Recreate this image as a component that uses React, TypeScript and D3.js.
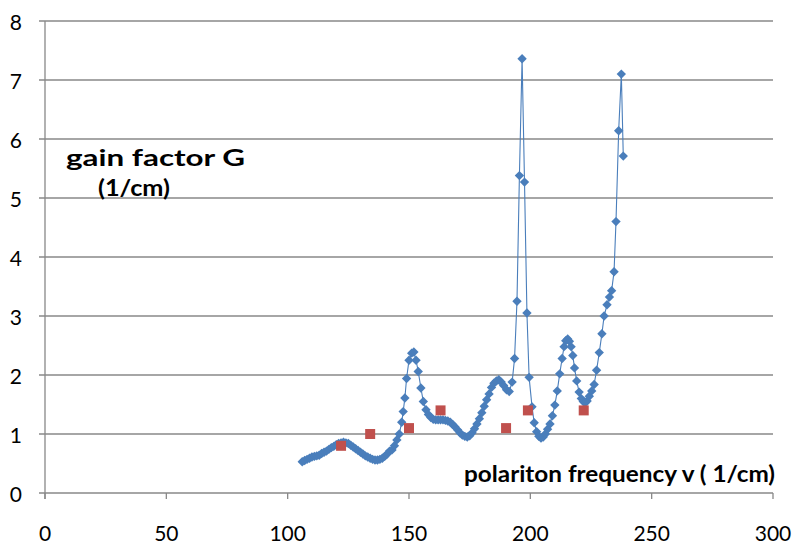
import React from "react";
import * as d3 from "d3";

const xTicks = [0, 50, 100, 150, 200, 250, 300];
const yTicks = [0, 1, 2, 3, 4, 5, 6, 7, 8];

const gainX = [
  106, 107, 108, 109, 110, 111, 112, 113, 114, 115, 116, 117, 118, 119, 120,
  121, 122, 123, 124, 125, 126, 127, 128, 129, 130, 131, 132, 133, 134, 135,
  136, 137, 138, 139, 140, 141, 142, 143, 144, 145, 146, 147, 147.6, 148.3,
  149, 150, 151.1, 152, 152.9, 153.8, 154.9, 155.9, 157, 158, 159, 160, 161,
  162, 163, 164, 165, 166, 167, 168, 169, 170, 171, 172, 173, 174, 175, 176,
  177, 178, 179, 180, 181, 182, 183, 184, 185, 186, 187, 188, 189, 190.2,
  191.3, 192.5, 193.5, 194.5, 195.5, 196.6, 197.6, 198.6, 199.5, 200.7, 201.6,
  202.6, 203.5, 204.4, 205.3, 206.2, 207.1, 208.1, 209.1, 210.1, 211.1, 212.1,
  213.1, 213.9, 214.6, 215.4, 216.1, 216.8, 217.5, 218.2, 219.1, 220.1, 221,
  221.8, 222.6, 223.4, 224.3, 225.3, 226.3, 227.3, 228.4, 229.5, 230.4, 231.6,
  232.6, 233.5, 234.5, 235.3, 236.4, 237.5, 238.3,
];
const gainY = [
  0.53, 0.55, 0.57, 0.59, 0.61, 0.62, 0.63, 0.64, 0.67, 0.69, 0.71, 0.74, 0.77,
  0.79, 0.82, 0.84, 0.85, 0.86, 0.85, 0.84, 0.81, 0.78, 0.75, 0.72, 0.69, 0.66,
  0.63, 0.61, 0.59, 0.57, 0.56, 0.56, 0.57, 0.59, 0.62, 0.66, 0.71, 0.73, 0.8,
  0.9, 1.0, 1.2, 1.38, 1.61, 1.94, 2.25, 2.37, 2.39, 2.25, 2.06, 1.78, 1.55,
  1.41, 1.33, 1.28, 1.25, 1.24, 1.24, 1.24, 1.24, 1.23, 1.22, 1.2, 1.16, 1.12,
  1.07, 1.02, 0.98, 0.96, 0.95, 0.97, 1.02, 1.09, 1.17, 1.26, 1.36, 1.47, 1.58,
  1.68, 1.79, 1.86, 1.9, 1.92, 1.88, 1.82, 1.75, 1.72, 1.88, 2.28, 3.25, 5.38,
  7.36, 5.27, 3.05, 1.96, 1.46, 1.19, 1.04, 0.96, 0.93, 0.95, 1.0, 1.08, 1.17,
  1.31, 1.49, 1.73, 2.02, 2.28, 2.48, 2.58, 2.61, 2.57, 2.48, 2.33, 2.12, 1.9,
  1.71, 1.6, 1.55, 1.53, 1.56, 1.64, 1.73, 1.84, 2.08, 2.38, 2.7, 3.0, 3.19,
  3.32, 3.43, 3.75, 4.6, 6.14, 7.1, 5.71,
];

const measX = [122, 134, 150, 163, 190, 199, 222];
const measY = [0.8, 1.0, 1.1, 1.4, 1.1, 1.4, 1.4];

const W = 800;
const H = 549;
const FONT = "Lato, 'Open Sans', sans-serif";
const GRID = "#888888";
const BLUE = "#4A7EBB";
const RED = "#C0504D";

export default function App() {
  const x = d3.scaleLinear().domain([0, 300]).range([45, 773]);
  const y = d3.scaleLinear().domain([0, 8]).range([493, 21]);
  const pts = gainX.map((v, i) => [v, gainY[i]] as [number, number]);
  const line = d3
    .line<[number, number]>()
    .x((d) => x(d[0]))
    .y((d) => y(d[1]));
  const diamond = d3.symbol().type(d3.symbolDiamond2).size(56)();
  const sq = 10;

  return (
    <svg
      width={W}
      height={H}
      style={{ position: "absolute", left: 0, top: 0, background: "#fff" }}
      fontFamily={FONT}
    >
      {yTicks.map((t) => (
        <g key={"y" + t}>
          <line x1={x(0) - 6} x2={x(300)} y1={y(t)} y2={y(t)} stroke={GRID} strokeWidth={1.3} />
          <text x={22} y={y(t)} textAnchor="end" dominantBaseline="central" fontSize={21} fill="#000">
            {t}
          </text>
        </g>
      ))}
      <line x1={x(0)} x2={x(0)} y1={y(8)} y2={y(0) + 6} stroke={GRID} strokeWidth={1.3} />
      {xTicks.map((t) => (
        <g key={"x" + t}>
          <line x1={x(t)} x2={x(t)} y1={y(0)} y2={y(0) + 6} stroke={GRID} strokeWidth={1.3} />
          <text x={x(t)} y={532} textAnchor="middle" dominantBaseline="central" fontSize={21} fill="#000">
            {t}
          </text>
        </g>
      ))}
      <path d={line(pts) || ""} fill="none" stroke={BLUE} strokeWidth={1.1} />
      {pts.map((d, i) => (
        <path key={"d" + i} d={diamond || ""} transform={`translate(${x(d[0])},${y(d[1])})`} fill={BLUE} />
      ))}
      {measX.map((v, i) => (
        <rect key={"m" + i} x={x(v) - sq / 2} y={y(measY[i]) - sq / 2} width={sq} height={sq} fill={RED} />
      ))}
      <text x={66} y={157} dominantBaseline="central" fontSize={23} fontWeight="bold" fill="#000" textLength={179} lengthAdjust="spacingAndGlyphs">
        gain factor G
      </text>
      <text x={98} y={187} dominantBaseline="central" fontSize={23} fontWeight="bold" fill="#000" textLength={72} lengthAdjust="spacingAndGlyphs">
        (1/cm)
      </text>
      <text x={464} y={473} dominantBaseline="central" fontSize={23} fontWeight="bold" fill="#000" textLength={311} lengthAdjust="spacingAndGlyphs">
        polariton frequency v ( 1/cm)
      </text>
    </svg>
  );
}
